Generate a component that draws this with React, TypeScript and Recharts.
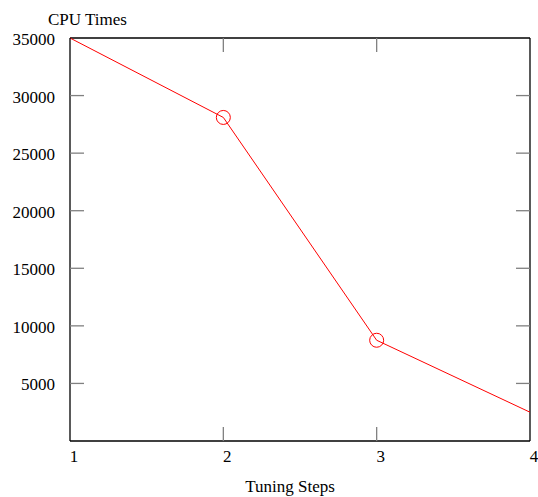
import { LineChart, Line, XAxis, YAxis, ReferenceLine } from "recharts";

const steps = [1, 2, 3, 4];
const cpuTimes = [35000, 28100, 8750, 2500];
const yTicks = [5000, 10000, 15000, 20000, 25000, 30000, 35000];

const data = steps.map((s, i) => ({ step: s, cpu: cpuTimes[i] }));

const W = 538;
const H = 497;
const LEFT = 70;
const RIGHT = 530;
const TOP = 38;
const BOTTOM = 441;
const TICK = 14;
const FONT = "'Liberation Serif', 'Times New Roman', serif";

const YTick = (props: any) => {
  const { y, payload } = props;
  const top = payload.value === 35000;
  return (
    <g>
      {!top && <line x1={LEFT} x2={LEFT + TICK} y1={y} y2={y} stroke="#808080" strokeWidth={1.3} />}
      {!top && <line x1={RIGHT - TICK} x2={RIGHT} y1={y} y2={y} stroke="#808080" strokeWidth={1.3} />}
      <text x={LEFT - 15} y={y + 7} textAnchor="end" fontFamily={FONT} fontSize={17} fill="#000">
        {payload.value}
      </text>
    </g>
  );
};

const XTick = (props: any) => {
  const { x, payload } = props;
  const inner = payload.value !== 1 && payload.value !== 4;
  return (
    <g>
      {inner && <line x1={x} x2={x} y1={BOTTOM - TICK} y2={BOTTOM} stroke="#808080" strokeWidth={1.3} />}
      {inner && <line x1={x} x2={x} y1={TOP} y2={TOP + TICK} stroke="#808080" strokeWidth={1.3} />}
      <text x={x + 4} y={462} textAnchor="middle" fontFamily={FONT} fontSize={17} fill="#000">
        {payload.value}
      </text>
    </g>
  );
};

const Dot = (props: any) => {
  const { cx, cy, index } = props;
  if (index !== 1 && index !== 2) return <g key={index} />;
  return <circle key={index} cx={cx} cy={cy} r={7} fill="none" stroke="#ff0000" strokeWidth={1} />;
};

const frame = { stroke: "#000", strokeWidth: 1.3 };

export default function App() {
  return (
    <div style={{ position: "absolute", left: 0, top: 0, width: W, height: H, background: "#fff" }}>
      <LineChart
        width={W}
        height={H}
        data={data}
        margin={{ top: TOP, right: W - RIGHT, bottom: 0, left: 0 }}
      >
        <XAxis
          dataKey="step"
          type="number"
          domain={[1, 4]}
          ticks={steps}
          axisLine={frame}
          tickLine={false}
          tickSize={0}
          height={H - BOTTOM}
          tick={<XTick />}
          interval={0}
        />
        <YAxis
          type="number"
          domain={[0, 35000]}
          ticks={yTicks}
          axisLine={frame}
          tickLine={false}
          tickSize={0}
          width={LEFT}
          tick={<YTick />}
          interval={0}
        />
        <ReferenceLine y={35000} stroke="#000" strokeWidth={1.3} ifOverflow="visible" />
        <ReferenceLine
          segment={[{ x: 4, y: 0 }, { x: 4, y: 35000 }]}
          stroke="#000"
          strokeWidth={1.3}
          ifOverflow="visible"
        />
        <Line
          dataKey="cpu"
          type="linear"
          stroke="#ff0000"
          strokeWidth={1}
          dot={<Dot />}
          activeDot={false}
          isAnimationActive={false}
        />
      </LineChart>
      <svg width={W} height={H} style={{ position: "absolute", left: 0, top: 0, pointerEvents: "none" }}>
        <text x={48} y={25} fontFamily={FONT} fontSize={17} fill="#000">CPU Times</text>
        <text x={290} y={492} textAnchor="middle" fontFamily={FONT} fontSize={17} fill="#000">Tuning Steps</text>
      </svg>
    </div>
  );
}
